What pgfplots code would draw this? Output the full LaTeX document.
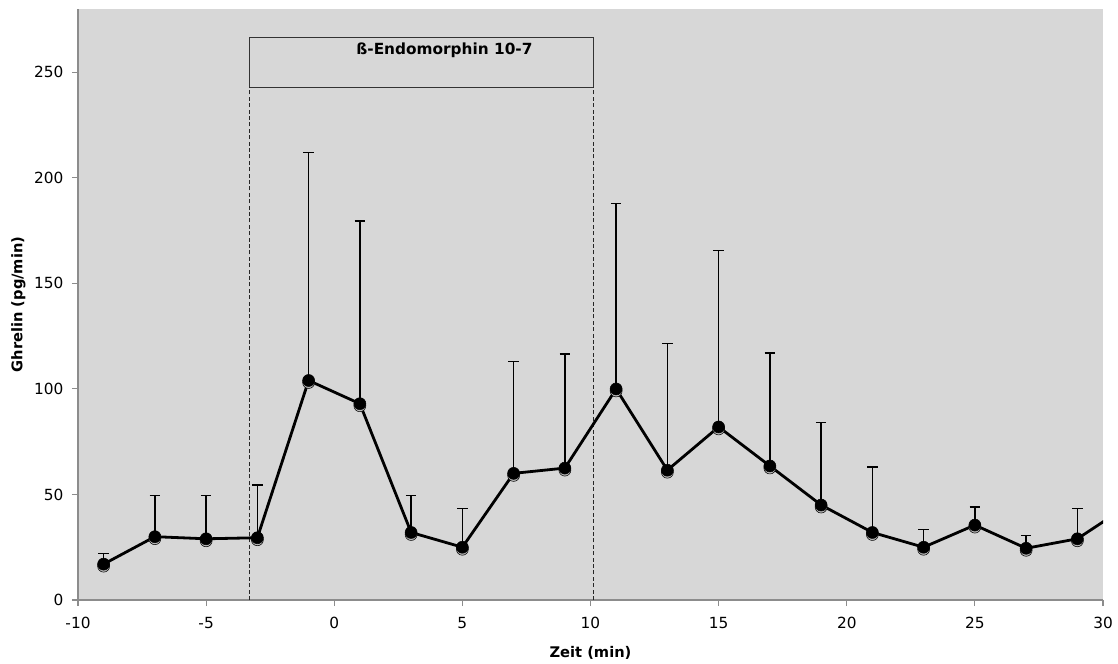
\documentclass[border=0pt]{standalone}
\usepackage{pgfplots}
\pgfplotsset{compat=1.18}
\usepackage{fontspec}
\setmainfont{DejaVu Sans}
\definecolor{bg}{RGB}{215,215,215}
\definecolor{axgray}{RGB}{140,140,140}
\pgfplotstableread{
x y e
-9 17 5
-7 30 19.5
-5 29 20.5
-3 29.5 25
-1 104 108
1 93 86.5
3 32 17.5
5 25 18.5
7 60 53
9 62.5 54
11 100 88
13 61.5 60
15 82 83.5
17 63.5 53.5
19 45 39
21 32 31
23 25 8.5
25 35.5 8.5
27 24.5 6
29 29 14.5
}\data
\pgfplotstableread{
x y
-9 17
-7 30
-5 29
-3 29.5
-1 104
1 93
3 32
5 25
7 60
9 62.5
11 100
13 61.5
15 82
17 63.5
19 45
21 32
23 25
25 35.5
27 24.5
29 29
31 45
}\linedata
\begin{document}
\begin{tikzpicture}
\useasboundingbox (-58.5pt,-48pt) rectangle (780pt,450pt);
\begin{axis}[
  at={(0,0)}, anchor=south west,
  scale only axis,
  width=768.75pt, height=443.25pt,
  xmin=-10, xmax=30, ymin=0, ymax=280,
  xtick={-10,-5,...,30},
  ytick={0,50,...,250},
  axis x line*=bottom, axis y line*=left,
  axis line style={axgray, line width=0.9pt, -},
  tick style={axgray, line width=0.8pt},
  tick align=outside,
  major tick length=4.5pt,
  axis background/.style={fill=bg},
  ticklabel style={font=\fontsize{11.5}{13}\selectfont},
  yticklabel style={xshift=-3pt},
  xticklabel style={yshift=-5pt},
  /pgf/number format/assume math mode=true,
  xlabel={\textbf{Zeit (min)}},
  ylabel={\textbf{Ghrelin (pg/min)}},
  label style={font=\fontsize{11}{13}\selectfont},
  xlabel style={yshift=-6pt},
  ylabel style={yshift=-0.5pt},
  clip=true,
]
% annotations
\draw[black!80, line width=0.75pt] (axis cs:-3.3,243) rectangle (axis cs:10.1,266.5);
\draw[black!85, line width=0.75pt, dash pattern=on 3pt off 1.8pt] (axis cs:-3.3,0) -- (axis cs:-3.3,243);
\draw[black!85, line width=0.75pt, dash pattern=on 3pt off 1.8pt] (axis cs:10.1,0) -- (axis cs:10.1,243);
\node[font=\bfseries\fontsize{11.5}{13}\selectfont, anchor=north] at (axis cs:4.3,266) {ß-Endomorphin 10-7};
% error bars
\addplot[black, line width=1pt, only marks, mark=none, forget plot,
  error bars/.cd, y dir=plus, y explicit,
  error mark=|,
  error bar style={black, line width=1pt},
  error mark options={black, line width=1pt, mark size=4pt}]
  table[x=x, y=y, y error=e] {\data};
% shadow
\addplot[only marks, mark=*, mark size=4.5pt, forget plot,
  mark options={fill=black!28, draw=none, yshift=-1.5pt}]
  table[x=x, y=y] {\data};
% line
\addplot[black, line width=2.1pt, mark=none] table[x=x, y=y] {\linedata};
% marks
\addplot[only marks, mark=*, mark size=4.5pt, mark options={fill=black, draw=none}]
  table[x=x, y=y] {\data};
\end{axis}
\end{tikzpicture}
\end{document}
